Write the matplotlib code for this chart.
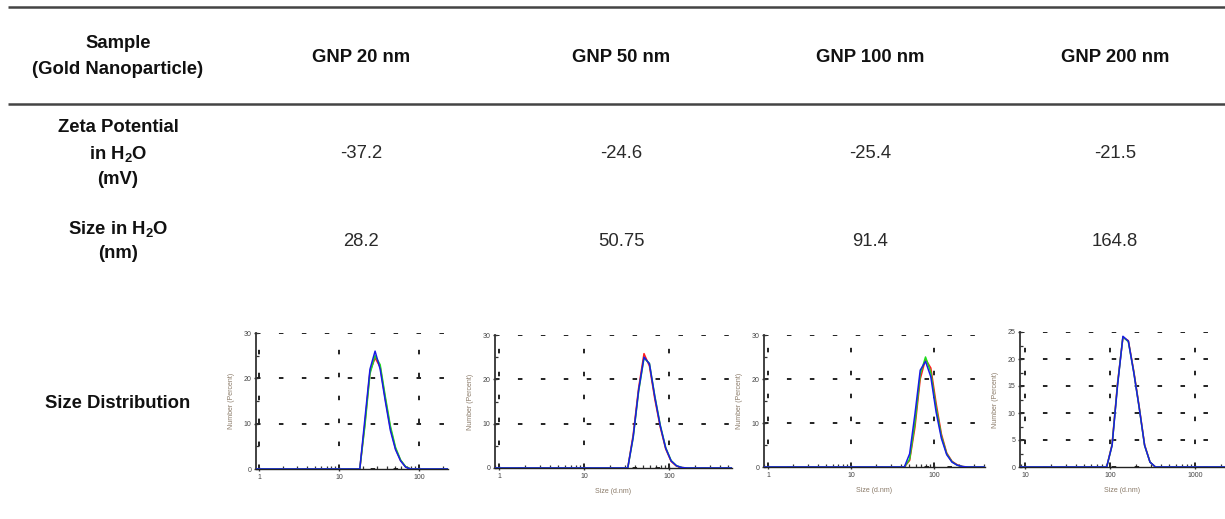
import matplotlib
matplotlib.use("Agg")
import matplotlib.pyplot as plt
from matplotlib.ticker import LogLocator, NullFormatter, FixedLocator, FuncFormatter

plt.rcParams["font.family"] = ["Liberation Sans", "DejaVu Sans"]
plt.rcParams["mathtext.fontset"] = "custom"
plt.rcParams["mathtext.rm"] = "Liberation Sans:bold"
plt.rcParams["mathtext.it"] = "Liberation Sans:bold"
plt.rcParams["mathtext.bf"] = "Liberation Sans:bold"

W, H = 1225, 519

# ---------------------------------------------------------------------------
# Table data
# ---------------------------------------------------------------------------
samples = ["GNP 20 nm", "GNP 50 nm", "GNP 100 nm", "GNP 200 nm"]
zeta_mv = ["-37.2", "-24.6", "-25.4", "-21.5"]
size_nm = ["28.2", "50.75", "91.4", "164.8"]

# ---------------------------------------------------------------------------
# Size distribution data (Zetasizer size bins, d.nm, number %)
# ---------------------------------------------------------------------------
bins_20 = [13.54, 15.69, 18.17, 21.04, 24.36, 28.21, 32.67, 37.84, 43.82,
           50.75, 58.77, 68.06, 78.82, 91.28]
red_20 = [0, 0, 0, 10.0, 21.5, 24.5, 22.5, 15.5, 9.0, 4.5, 1.9, 0.45, 0, 0]
green_20 = [0, 0, 0, 9.5, 21.0, 25.0, 23.0, 16.0, 9.5, 4.8, 2.0, 0.5, 0, 0]
blue_20 = [0, 0, 0, 11.0, 22.0, 26.0, 22.0, 15.0, 8.5, 4.3, 1.8, 0.4, 0, 0]

bins_50 = [28.21, 32.67, 37.84, 43.82, 50.75, 58.77, 68.06, 78.82, 91.28,
           105.7, 122.4, 141.8, 164.2]
red_50 = [0, 0, 7.5, 18.0, 25.8, 23.0, 15.5, 9.2, 4.3, 1.5, 0.4, 0.1, 0]
green_50 = [0, 0, 6.8, 17.2, 24.8, 23.6, 16.2, 9.7, 4.6, 1.7, 0.5, 0.1, 0]
blue_50 = [0, 0, 7.0, 17.5, 25.0, 23.5, 16.0, 9.5, 4.5, 1.6, 0.5, 0.1, 0]

bins_100 = [37.84, 43.82, 50.75, 58.77, 68.06, 78.82, 91.28, 105.7, 122.4,
            141.8, 164.2, 190.1, 220.2, 255.0]
red_100 = [0, 0, 1.5, 9.0, 20.0, 24.5, 22.5, 14.5, 7.5, 3.2, 1.3, 0.5, 0.1, 0]
green_100 = [0, 0, 1.8, 10.0, 21.0, 25.0, 21.5, 13.5, 7.0, 3.0, 1.2, 0.4, 0.1, 0]
blue_100 = [0, 0, 3.0, 12.0, 22.0, 24.0, 20.5, 12.5, 6.5, 2.8, 1.1, 0.4, 0.1, 0]

bins_200 = [78.82, 91.28, 105.7, 122.4, 141.8, 164.2, 190.1, 220.2, 255.0,
            295.3, 342.0, 396.1]
red_200 = [0, 0, 4.2, 15.5, 24.0, 23.4, 17.8, 11.2, 4.1, 0.9, 0, 0]
green_200 = [0, 0, 4.0, 15.2, 24.1, 23.2, 17.6, 11.0, 4.0, 0.9, 0, 0]
blue_200 = [0, 0, 4.0, 15.0, 24.2, 23.3, 17.5, 11.0, 4.0, 0.9, 0, 0]

# full measurement range of the instrument (baseline ends)
range_lo, range_hi = 0.4, 10000

_RED = "#ff1a1a"
_GREEN = "#1edc1e"
_BLUE = "#1a1ae6"
_TEXT = "#111111"
_AXLBL = "#8a7a68"


def px_box(left, top, right, bottom):
    return [left / W, 1 - bottom / H, (right - left) / W, (bottom - top) / H]


def dist_plot(box, bins, runs, xlim, ylim, yticks, yminor, xlabel=True):
    ax = fig.add_axes(px_box(*box))
    for y, c in zip(runs, [_RED, _GREEN, _BLUE]):
        ax.plot([range_lo] + bins + [range_hi], [0] + y + [0], color=c, lw=1.1,
                zorder=3 if c == _BLUE else 2)
    ax.set_xscale("log")
    ax.set_xlim(*xlim)
    ax.set_ylim(*ylim)
    ax.yaxis.set_major_locator(FixedLocator(yticks))
    ax.yaxis.set_minor_locator(FixedLocator(yminor))
    ax.xaxis.set_major_locator(LogLocator(base=10))
    ax.xaxis.set_minor_locator(LogLocator(base=10, subs=range(2, 10)))
    ax.xaxis.set_minor_formatter(NullFormatter())
    ax.xaxis.set_major_formatter(FuncFormatter(lambda v, p: f"{v:g}"))
    ax.grid(True, which="major", color="#111111", linestyle=(0, (2.5, 10.2)),
            linewidth=1.3)
    ax.set_axisbelow(True)
    for s in ["top", "right"]:
        ax.spines[s].set_visible(False)
    ax.spines["left"].set_color("#333333")
    ax.spines["left"].set_linewidth(1.3)
    ax.spines["bottom"].set_color("#222222")
    ax.spines["bottom"].set_linewidth(1.0)
    ax.tick_params(axis="both", which="major", labelsize=5, colors="#333333",
                   labelcolor="#444444", length=3, width=1.0, direction="inout",
                   pad=2)
    ax.tick_params(axis="both", which="minor", length=2, width=0.9,
                   direction="in", colors="#333333")
    ax.set_ylabel("Number (Percent)", fontsize=5, color=_AXLBL, labelpad=6)
    if xlabel:
        ax.set_xlabel("Size (d.nm)", fontsize=5, color=_AXLBL, labelpad=6)
    return ax


fig = plt.figure(figsize=(W / 100, H / 100), dpi=100)

# ---------------------------------------------------------------------------
# Table layer (pixel coordinates)
# ---------------------------------------------------------------------------
tab = fig.add_axes([0, 0, 1, 1])
tab.set_xlim(0, W)
tab.set_ylim(H, 0)
tab.axis("off")

tab.plot([8, W], [6.5, 6.5], color="#444444", lw=1.8, solid_capstyle="butt")
tab.plot([8, W], [103.5, 103.5], color="#444444", lw=1.8, solid_capstyle="butt")

col_label = 118
col_x = [361, 621, 870, 1115]
hdr = dict(ha="center", va="center", fontsize=13.3, fontweight="bold", color=_TEXT)
val = dict(ha="center", va="center", fontsize=13.3, color="#2a2a2a")

tab.text(col_label, 43, "Sample", **hdr)
tab.text(col_label, 69, "(Gold Nanoparticle)", **hdr)
for x, s in zip(col_x, samples):
    tab.text(x, 57, s, **hdr)

tab.text(col_label, 128, "Zeta Potential", **hdr)
tab.text(col_label, 154, "in H$_2$O", **hdr)
tab.text(col_label, 180, "(mV)", **hdr)
for x, v in zip(col_x, zeta_mv):
    tab.text(x, 154, v, **val)

tab.text(col_label, 229, "Size in H$_2$O", **hdr)
tab.text(col_label, 254, "(nm)", **hdr)
for x, v in zip(col_x, size_nm):
    tab.text(x, 241, v, **val)

tab.text(col_label, 403, "Size Distribution", **hdr)

# ---------------------------------------------------------------------------
# Distribution plots
# ---------------------------------------------------------------------------
dist_plot((256, 333, 448, 469), bins_20, [red_20, green_20, blue_20],
          (0.917, 230), (0, 30), [0, 10, 20, 30], [5, 15, 25], xlabel=False)
dist_plot((495, 335, 732, 468), bins_50, [red_50, green_50, blue_50],
          (0.897, 550), (0, 30), [0, 10, 20, 30], [5, 15, 25])
dist_plot((764, 335, 985, 467), bins_100, [red_100, green_100, blue_100],
          (0.895, 410), (0, 30), [0, 10, 20, 30], [5, 15, 25])
dist_plot((1020, 332, 1225, 467), bins_200, [red_200, green_200, blue_200],
          (8.73, 2250), (0, 25), [0, 5, 10, 15, 20, 25], [2.5, 7.5, 12.5, 17.5, 22.5])

fig.savefig("out.png", dpi=100)
